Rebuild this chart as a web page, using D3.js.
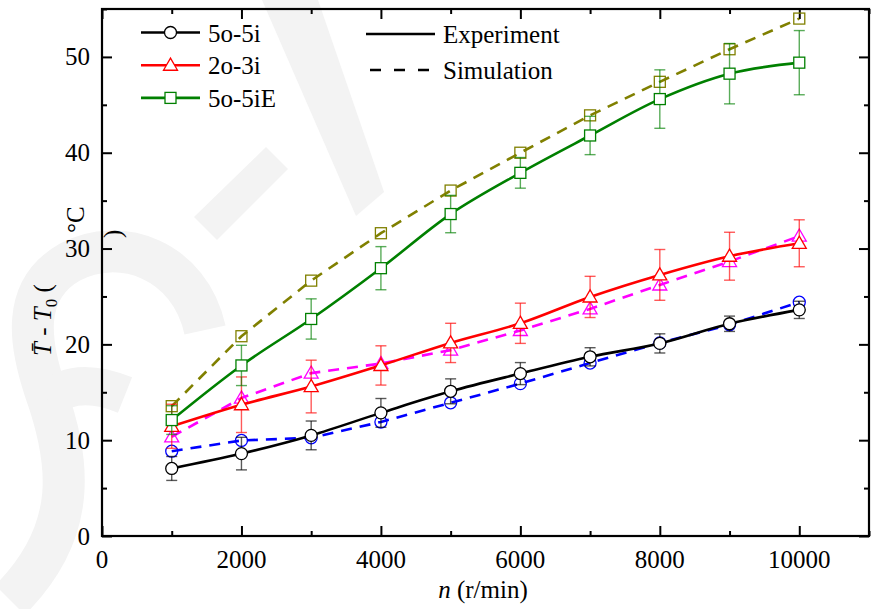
<!DOCTYPE html>
<html>
<head>
<meta charset="utf-8">
<script src="https://cdn.jsdelivr.net/npm/d3@7"></script>
</head>
<body style="margin:0">
<div id="chart"></div>
<script>
// Data (temperature rise vs speed)
const speeds = [1000, 2000, 3000, 4000, 5000, 6000, 7000, 8000, 9000, 10000];

const exp5o5i  = [7.05, 8.6, 10.5, 12.85, 15.1, 16.95, 18.7, 20.1, 22.15, 23.6];
const err5o5i  = [1.25, 1.7, 1.5, 1.5, 1.3, 1.15, 0.95, 1.0, 0.8, 0.9];
const sim5o5i  = [8.85, 9.97, 10.25, 11.9, 13.9, 15.9, 18.05, 20.15, 22.05, 24.4];

const exp2o3i  = [11.45, 13.7, 15.6, 17.8, 20.15, 22.2, 24.95, 27.25, 29.2, 30.55];
const err2o3i  = [2.3, 2.9, 2.75, 2.05, 2.05, 2.1, 2.15, 2.65, 2.5, 2.45];
const sim2o3i  = [10.35, 14.4, 17.0, 18.0, 19.4, 21.45, 23.7, 26.2, 28.65, 31.3];

const exp5o5iE = [12.1, 17.8, 22.65, 27.95, 33.6, 37.9, 41.8, 45.6, 48.25, 49.4];
const err5o5iE = [1.5, 2.1, 2.1, 2.25, 1.95, 1.6, 2.0, 3.05, 3.15, 3.35];
const sim5o5iE = [13.55, 20.85, 26.65, 31.6, 36.05, 40.0, 43.9, 47.4, 50.8, 54.0];

const xMajorTicks = [0, 2000, 4000, 6000, 8000, 10000];
const xMinorTicks = [1000, 3000, 5000, 7000, 9000, 11000];
const yMajorTicks = [0, 10, 20, 30, 40, 50];
const yMinorTicks = [5, 15, 25, 35, 45, 55];

const W = 873, H = 609;
const plot = { left: 102, right: 869, top: 9, bottom: 536 };
const serif = "Liberation Serif";

const svg = d3.select("#chart").append("svg")
    .attr("width", W)
    .attr("height", H);

// faint watermark in the background
const wm = svg.append("g").attr("fill", "#f3f3f3").attr("stroke", "none");
wm.append("polygon").attr("points", "194,217 266,147 288,169 217,240");
wm.append("polygon").attr("points", "262,0 318,0 384,192 356,216");
wm.append("path")
    .attr("fill", "none")
    .attr("stroke", "#f3f3f3")
    .attr("stroke-width", 42)
    .attr("d", "M205,330 C190,260 120,235 70,262 C20,290 30,345 45,390 C70,460 80,530 10,600");
wm.append("path")
    .attr("fill", "none")
    .attr("stroke", "#f3f3f3")
    .attr("stroke-width", 38)
    .attr("d", "M48,400 C70,380 100,385 125,395");

// Scales
const x = d3.scaleLinear().domain([0, 11000]).range([plot.left, plot.right]);
const y = d3.scaleLinear().domain([0, 55]).range([plot.bottom, plot.top]);

// Axes: only tick marks from d3 (inward on all four sides); labels drawn as plain texts
function drawTicks(axis, tx, ty) {
    const g = svg.append("g")
        .attr("transform", `translate(${tx}, ${ty})`)
        .call(axis.tickFormat(""));
    g.select(".domain").remove();
    g.selectAll(".tick text").remove();
    g.selectAll(".tick line").attr("stroke", "#000").attr("stroke-width", 2);
}

drawTicks(d3.axisBottom(x).tickValues(xMajorTicks).tickSizeInner(-10), 0, plot.bottom);
drawTicks(d3.axisBottom(x).tickValues(xMinorTicks).tickSizeInner(-5), 0, plot.bottom);
drawTicks(d3.axisTop(x).tickValues(xMajorTicks).tickSizeInner(-10), 0, plot.top);
drawTicks(d3.axisTop(x).tickValues(xMinorTicks).tickSizeInner(-5), 0, plot.top);
drawTicks(d3.axisLeft(y).tickValues(yMajorTicks).tickSizeInner(-10), plot.left, 0);
drawTicks(d3.axisLeft(y).tickValues(yMinorTicks).tickSizeInner(-5), plot.left, 0);
drawTicks(d3.axisRight(y).tickValues(yMajorTicks).tickSizeInner(-10), plot.right, 0);
drawTicks(d3.axisRight(y).tickValues(yMinorTicks).tickSizeInner(-5), plot.right, 0);

// Frame
svg.append("rect")
    .attr("x", plot.left).attr("y", plot.top)
    .attr("width", plot.right - plot.left).attr("height", plot.bottom - plot.top)
    .attr("fill", "none").attr("stroke", "#000").attr("stroke-width", 2.2);

// plain serif text helper
function label(tx, ty, str, anchor) {
    const t = svg.append("text")
        .attr("x", tx).attr("y", ty)
        .attr("font-family", serif)
        .attr("font-size", 25)
        .attr("text-anchor", anchor || "start");
    if (str !== null) t.text(str);
    return t;
}
function vlabel(tx, ty, str) {
    const t = svg.append("text")
        .attr("transform", `translate(${tx}, ${ty}) rotate(-90)`)
        .attr("font-family", serif)
        .attr("font-size", 25);
    if (str !== null) t.text(str);
    return t;
}

// Tick labels
xMajorTicks.forEach((v) => label(x(v), 568, String(v), "middle"));
yMajorTicks.forEach((v) => label(plot.left - 12, y(v) + 8.5, String(v), "end"));

// Series definitions
const series = [
    { name: "5o-5i",  exp: exp5o5i,  err: err5o5i,  sim: sim5o5i,  expColor: "#000000", simColor: "#0000ff", shape: "circle" },
    { name: "2o-3i",  exp: exp2o3i,  err: err2o3i,  sim: sim2o3i,  expColor: "#ff0000", simColor: "#ff00ff", shape: "triangle" },
    { name: "5o-5iE", exp: exp5o5iE, err: err5o5iE, sim: sim5o5iE, expColor: "#008000", simColor: "#808000", shape: "square" }
];

const lineExp = d3.line()
    .x((d) => x(d[0]))
    .y((d) => y(d[1]))
    .curve(d3.curveCatmullRom.alpha(0.5));
const lineSim = d3.line()
    .x((d) => x(d[0]))
    .y((d) => y(d[1]));

function marker(g, shape, cx, cy, color, fill) {
    if (shape === "circle") {
        g.append("circle").attr("cx", cx).attr("cy", cy).attr("r", 6)
            .attr("fill", fill).attr("stroke", color).attr("stroke-width", 1.3);
    } else if (shape === "square") {
        g.append("rect").attr("x", cx - 5.5).attr("y", cy - 5.5).attr("width", 11).attr("height", 11)
            .attr("fill", fill).attr("stroke", color).attr("stroke-width", 1.3);
    } else {
        g.append("path").attr("d", d3.symbol(d3.symbolTriangle, 85)())
            .attr("transform", `translate(${cx}, ${cy + 1})`)
            .attr("fill", fill).attr("stroke", color).attr("stroke-width", 1.3);
    }
}

const layer = svg.append("g");

// Simulation lines (dashed) with hollow markers
series.forEach((s) => {
    const pts = speeds.map((v, i) => [v, s.sim[i]]);
    layer.append("path")
        .attr("d", lineSim(pts))
        .attr("fill", "none")
        .attr("stroke", s.simColor)
        .attr("stroke-width", 2.6)
        .attr("stroke-dasharray", "11,8");
    pts.forEach((p) => marker(layer, s.shape, x(p[0]), y(p[1]), s.simColor, "none"));
});

// Experiment lines (solid) with error bars and white markers
series.forEach((s) => {
    const pts = speeds.map((v, i) => [v, s.exp[i]]);
    layer.append("path")
        .attr("d", lineExp(pts))
        .attr("fill", "none")
        .attr("stroke", s.expColor)
        .attr("stroke-width", 2.6);
    const eb = layer.append("g")
        .attr("stroke", s.expColor)
        .attr("stroke-opacity", 0.65)
        .attr("stroke-width", 1.4);
    speeds.forEach((v, i) => {
        const cx = x(v), y1 = y(s.exp[i] + s.err[i]), y2 = y(s.exp[i] - s.err[i]);
        eb.append("line").attr("x1", cx).attr("x2", cx).attr("y1", y1).attr("y2", y2);
        eb.append("line").attr("x1", cx - 5.5).attr("x2", cx + 5.5).attr("y1", y1).attr("y2", y1);
        eb.append("line").attr("x1", cx - 5.5).attr("x2", cx + 5.5).attr("y1", y2).attr("y2", y2);
    });
    pts.forEach((p) => marker(layer, s.shape, x(p[0]), y(p[1]), s.expColor, "#fff"));
});

// Legend: series
const legend = svg.append("g");
series.forEach((s, i) => {
    const ly = 32.5 + i * 32.7;
    legend.append("line")
        .attr("x1", 141).attr("x2", 200).attr("y1", ly).attr("y2", ly)
        .attr("stroke", s.expColor).attr("stroke-width", 2.6);
    marker(legend, s.shape, 170.5, ly, s.expColor, "#fff");
    label(208, ly + 9, s.name);
});

// Legend: line styles
legend.append("line")
    .attr("x1", 366).attr("x2", 435).attr("y1", 34).attr("y2", 34)
    .attr("stroke", "#000").attr("stroke-width", 2.6);
label(443, 43, "Experiment");
legend.append("line")
    .attr("x1", 370).attr("x2", 429).attr("y1", 70).attr("y2", 70)
    .attr("stroke", "#000").attr("stroke-width", 2.6)
    .attr("stroke-dasharray", "11,13");
label(443, 79, "Simulation");

// X axis title
const xt = label(483, 598, null, "middle");
xt.append("tspan").attr("font-style", "italic").text("n");
xt.append("tspan").text(" (r/min)");

// Y axis title (pieces offset as in the original)
const yt = vlabel(51, 356, null);
yt.append("tspan").attr("font-style", "italic").text("T\u0304");
yt.append("tspan").text(" - ");
yt.append("tspan").attr("font-style", "italic").text("T");
yt.append("tspan").attr("dy", 6).attr("font-size", 17).text("0");
yt.append("tspan").attr("dy", -6).text(" (");
vlabel(84, 233, "\u00b0C");
vlabel(121, 238, ")");
</script>
</body>
</html>
